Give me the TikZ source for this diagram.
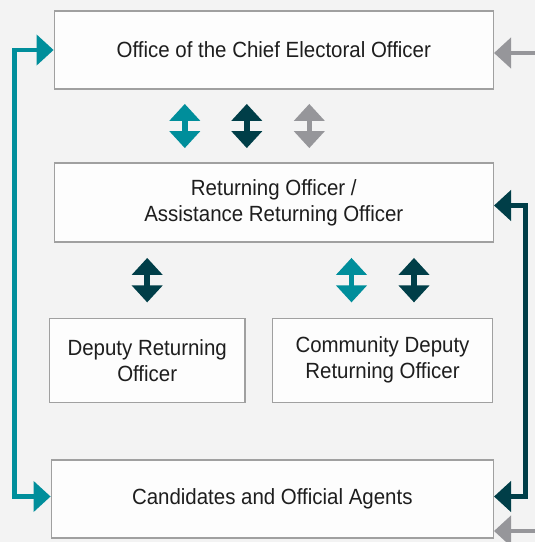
\documentclass[tikz,border=0pt]{standalone}
\usepackage{fontspec}
\setmainfont[FakeStretch=0.93]{Liberation Sans}
\usetikzlibrary{arrows.meta}

\definecolor{bgc}{RGB}{243,243,243}
\definecolor{boxc}{RGB}{253,253,253}
\definecolor{edgec}{RGB}{160,160,160}
\definecolor{tealc}{RGB}{0,142,155}
\definecolor{darkc}{RGB}{0,62,72}
\definecolor{greyc}{RGB}{150,150,154}
\definecolor{txtc}{RGB}{30,30,30}

\tikzset{
	office/.style={draw=edgec, fill=boxc, line width=1.4pt, align=center, text=txtc, inner sep=0pt, font=\fontsize{22}{26}\selectfont},
	link/.style={line width=4.5pt, {Triangle[length=17pt,width=30pt]}-{Triangle[length=17pt,width=30pt]}},
	feed/.style={line width=4.5pt, -{Triangle[length=17pt,width=30pt]}},
	both/.style={line width=5.5pt, {Triangle[length=17pt,width=30pt]}-{Triangle[length=17pt,width=30pt]}, shorten <=#1, shorten >=#1}
}

\begin{document}
\begin{tikzpicture}[x=1pt,y=-1pt]
		\useasboundingbox (0,0) rectangle (535,542);
		\fill[bgc] (0,0) rectangle (535,542);
		% boxes
		\node[office, minimum width=439pt, minimum height=78pt] (ceo) at (273.8,50) {Office of the Chief Electoral Officer};
		\node[office, minimum width=439pt, minimum height=79pt] (ro) at (273.8,202.5) {Returning Officer /\\Assistance Returning Officer};
		\node[office, minimum width=195.5pt, minimum height=84pt] (dro) at (147.2,360.3) {Deputy Returning\\Officer};
		\node[office, minimum width=220.4pt, minimum height=84pt] (cdro) at (382.5,360.3) {Community Deputy\\Returning Officer};
		\node[office, minimum width=442pt, minimum height=78pt] (cand) at (272.3,499) {Candidates and Official Agents};
		% double arrows
		\draw[both=14.2pt, tealc] ([xshift=-89pt]ceo.south) -- ([xshift=-89pt]ro.north);
		\draw[both=14.2pt, darkc] ([xshift=-27pt]ceo.south) -- ([xshift=-27pt]ro.north);
		\draw[both=14.2pt, greyc] ([xshift=35.5pt]ceo.south) -- ([xshift=35.5pt]ro.north);
		\draw[both=15.2pt, darkc] (dro.north |- ro.south) -- (dro.north);
		\draw[both=15.2pt, tealc] ([xshift=-31pt]cdro.north |- ro.south) -- ([xshift=-31pt]cdro.north);
		\draw[both=15.2pt, darkc] ([xshift=31.5pt]cdro.north |- ro.south) -- ([xshift=31.5pt]cdro.north);
		% side links
		\draw[link, tealc] (ceo.west) -- ++(-39pt,0) |- ([yshift=2.5pt]cand.west);
		\draw[link, darkc] ([yshift=-3pt]ro.east) -- ++(31.5pt,0) |- ([yshift=2.5pt]cand.east);
		\coordinate (inA) at (535,53);
		\coordinate (inB) at (535,531);
		\draw[feed, greyc] (inA) -- ([yshift=-3pt]ceo.east);
		\draw[feed, greyc] (inB) -- ([yshift=-32pt]cand.east);
\end{tikzpicture}
\end{document}
